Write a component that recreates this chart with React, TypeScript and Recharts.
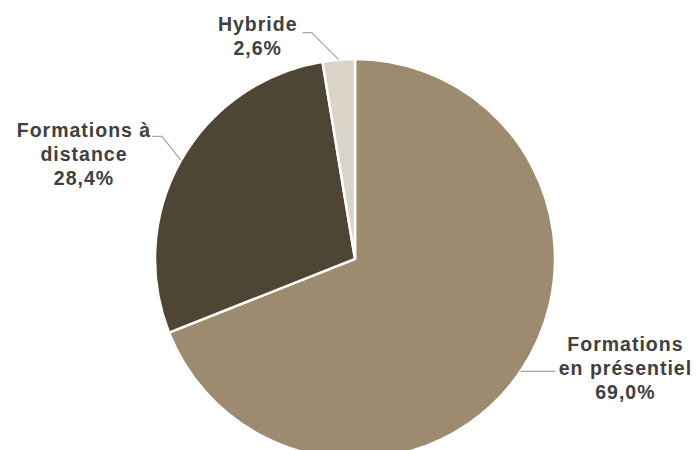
import { Cell, Pie, PieChart } from 'recharts';

const CATEGORIES = ['Formations en présentiel', 'Formations à distance', 'Hybride'];
const CATEGORY_LINES = [['Formations', 'en présentiel'], ['Formations à', 'distance'], ['Hybride']];
const SHARES = [69.0, 28.4, 2.6];

const COLORS = ['#9C8B6F', '#4F4535', '#D9D3C8'];
const TEXT = '#404040';
const LEADER = '#A6A6A6';

// elbow offset from slice edge, horizontal run, text offset from end of run
const LABEL_LAYOUT = [
  { ex: 0, ey: 0, run: 35, tx: 70, ty: -20 },
  { ex: -19, ey: -24, run: -10, tx: -68, ty: 1 },
  { ex: -27, ey: -27, run: -9, tx: -45, ty: -2 },
];

const data = CATEGORIES.map((name, i) => ({ name, value: SHARES[i] }));

if (typeof document !== 'undefined') document.body.style.margin = '0';

const RAD = Math.PI / 180;

function SliceLabel(props: any) {
  const { cx, cy, midAngle, outerRadius, index, value } = props;
  const lay = LABEL_LAYOUT[index];
  const px = Number(cx) + Number(outerRadius) * Math.cos(-midAngle * RAD);
  const py = Number(cy) + Number(outerRadius) * Math.sin(-midAngle * RAD);
  const ex = px + lay.ex;
  const ey = py + lay.ey;
  const lx = ex + lay.run;
  const lines = [...CATEGORY_LINES[index], `${Number(value).toFixed(1).replace('.', ',')}%`];
  return (
    <g>
      <polyline points={`${px},${py} ${ex},${ey} ${lx},${ey}`} fill="none" stroke={LEADER} strokeWidth={1.2} />
      <text
        x={lx + lay.tx}
        y={ey + lay.ty}
        textAnchor="middle"
        fill={TEXT}
        style={{ fontFamily: 'Liberation Sans, Arial, sans-serif', fontSize: 19.5, fontWeight: 700, letterSpacing: 1 }}
      >
        {lines.map((l, i) => (
          <tspan key={i} x={lx + lay.tx} dy={i === 0 ? 0 : 24}>
            {l}
          </tspan>
        ))}
      </text>
    </g>
  );
}

export default function App() {
  return (
    <PieChart width={696} height={450} margin={{ top: 0, right: 0, bottom: 0, left: 0 }}>
      <Pie
        data={data}
        dataKey="value"
        nameKey="name"
        cx={355}
        cy={259}
        outerRadius={200}
        startAngle={90}
        endAngle={-270}
        stroke="#FFFFFF"
        strokeWidth={2.5}
        labelLine={false}
        label={SliceLabel}
        isAnimationActive={false}
      >
        {data.map((d, i) => (
          <Cell key={d.name} fill={COLORS[i]} />
        ))}
      </Pie>
    </PieChart>
  );
}
